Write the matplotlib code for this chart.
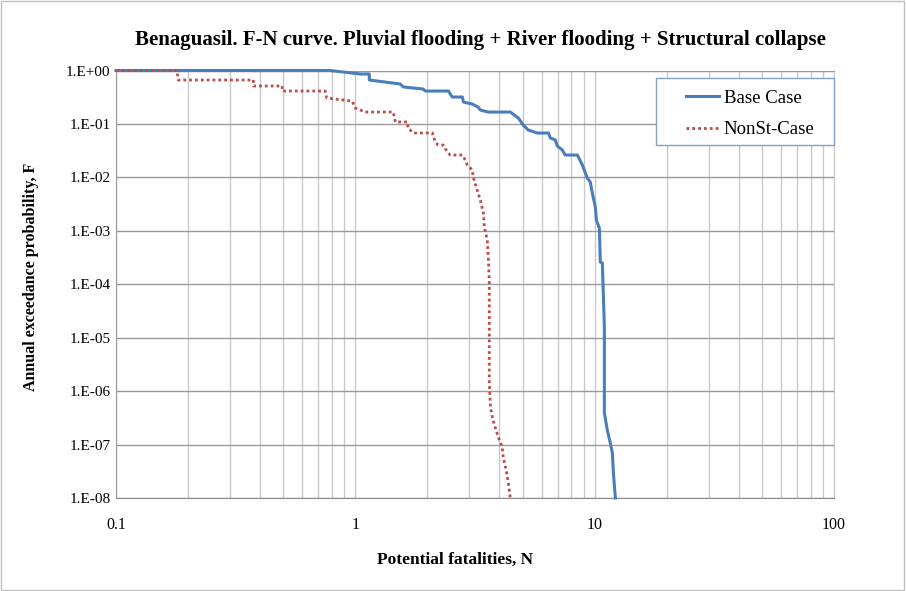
import numpy as np
import matplotlib
matplotlib.use("Agg")
from matplotlib import pyplot as plt
from matplotlib.ticker import LogLocator, FuncFormatter, NullFormatter
from matplotlib.patches import Rectangle

# F-N curve vertices (N = potential fatalities, F = annual exceedance probability)
base_n = [0.1, 0.786, 1.049, 1.144, 1.144, 1.54, 1.59, 1.92, 1.96, 2.45, 2.54, 2.80,
          2.83, 3.08, 3.26, 3.33, 3.59, 4.44, 4.80, 5.03, 5.28, 5.76, 6.41, 6.53,
          6.85, 6.98, 7.33, 7.53, 8.47, 8.89, 9.32, 9.59, 9.78, 10.07, 10.17, 10.47,
          10.56, 10.77, 10.87, 10.98, 10.98, 11.30, 11.63, 11.86, 11.98, 12.21]
base_f = [1.0, 1.0, 0.86, 0.86, 0.664, 0.559, 0.491, 0.451, 0.413, 0.413, 0.319, 0.319,
          0.257, 0.236, 0.207, 0.182, 0.167, 0.167, 0.129, 0.0953, 0.0769, 0.0676, 0.0676, 0.0545,
          0.050, 0.0386, 0.0325, 0.0262, 0.0262, 0.0170, 0.0097, 0.00817, 0.00508, 0.00278, 0.00158, 0.00112,
          2.6e-4, 2.5e-4, 6.8e-5, 1.6e-5, 3.9e-7, 1.85e-7, 1.06e-7, 6.9e-8, 2.9e-8, 1e-8]

nonst_n = [0.1, 0.180, 0.182, 0.375, 0.375, 0.495, 0.495, 0.749, 0.76, 0.97, 1.0, 1.10,
           1.44, 1.47, 1.65, 1.66, 1.75, 2.10, 2.16, 2.22, 2.33, 2.38, 2.49, 2.80,
           2.88, 2.94, 3.08, 3.11, 3.23, 3.33, 3.43, 3.46, 3.56, 3.60, 3.63, 3.63,
           3.63, 3.67, 3.74, 3.84, 3.96, 4.11, 4.15, 4.27, 4.36, 4.44]
nonst_f = [1.0, 1.0, 0.664, 0.664, 0.513, 0.513, 0.413, 0.413, 0.305, 0.268, 0.199, 0.167,
           0.167, 0.109, 0.109, 0.0838, 0.0676, 0.0676, 0.0458, 0.0403, 0.0403, 0.0339, 0.0262, 0.0262,
           0.0211, 0.0170, 0.0137, 0.0101, 0.00578, 0.00376, 0.00214, 0.00117, 6.7e-4, 2.8e-4, 1.05e-4, 2.4e-5,
           1.4e-6, 5.0e-7, 3.2e-7, 2.1e-7, 1.37e-7, 8.9e-8, 5.8e-8, 3.3e-8, 1.9e-8, 1e-8]

plt.rcParams["font.family"] = ["Liberation Serif", "DejaVu Serif"]

fig = plt.figure(figsize=(9.06, 5.91), dpi=100)
fig.patches.append(Rectangle((0.001, 0.001), 0.997, 0.997, transform=fig.transFigure,
                             fill=False, edgecolor="#bfbfbf", lw=1))
ax = fig.add_axes([0.128, 0.1574, 0.7925, 0.7233])

ax.plot(base_n, base_f, color="#4a7ebb", lw=2.2, label="Base Case", clip_on=False, zorder=3)
ax.plot(nonst_n, nonst_f, color="#be4b48", lw=2.0, ls=(0, (1, 1.1)), label="NonSt-Case",
        clip_on=False, zorder=4)

ax.set_xscale("log")
ax.set_yscale("log")
ax.set_xlim(0.1, 100)
ax.set_ylim(1e-8, 1)

ax.xaxis.set_major_locator(LogLocator(base=10, numticks=10))
ax.xaxis.set_minor_locator(LogLocator(base=10, subs=np.arange(2, 10), numticks=20))
ax.xaxis.set_major_formatter(FuncFormatter(lambda v, p: "%g" % v))
ax.xaxis.set_minor_formatter(NullFormatter())
ax.yaxis.set_major_locator(LogLocator(base=10, numticks=12))
ax.yaxis.set_minor_locator(LogLocator(base=10, subs=[], numticks=12))
ax.yaxis.set_major_formatter(FuncFormatter(lambda v, p: "1.E%+03d" % round(np.log10(v))))

ax.grid(True, which="major", axis="y", color="#999999", lw=1)
ax.grid(True, which="both", axis="x", color="#c8c8c8", lw=1)
ax.set_axisbelow(True)
ax.spines["left"].set_color("#999999")
ax.spines["bottom"].set_color("#8c8c8c")
ax.spines["top"].set_color("#999999")
ax.spines["right"].set_color("#c8c8c8")
ax.tick_params(axis="y", which="both", length=0, labelsize=11, pad=4)
ax.tick_params(axis="x", which="both", length=0, labelsize=11.5, pad=14)

fig.text(480 / 906, 1 - 40 / 591,
         "Benaguasil. F-N curve. Pluvial flooding + River flooding + Structural collapse",
         fontsize=15, fontweight="bold", ha="center", va="center")
fig.text(455 / 906, 1 - 560 / 591, "Potential fatalities, N",
         fontsize=12.5, fontweight="bold", ha="center", va="center")
fig.text(31 / 906, 1 - 277 / 591, "Annual exceedance probability, F",
         fontsize=11.5, fontweight="bold", ha="center", va="center", rotation=90)

# legend box drawn separately, entries placed inside it
ax.add_patch(Rectangle((0.752, 0.826), 0.248, 0.1565, transform=ax.transAxes,
                       facecolor="white", edgecolor="#7f9fc9", lw=1, zorder=5, clip_on=False))
leg = ax.legend(loc="upper left", bbox_to_anchor=(0.794, 0.955), fontsize=13.5,
                frameon=False, handlelength=1.75, handletextpad=0.25, borderpad=0,
                labelspacing=0.76, borderaxespad=0)
leg.set_zorder(6)

fig.savefig("out.png", dpi=100)
